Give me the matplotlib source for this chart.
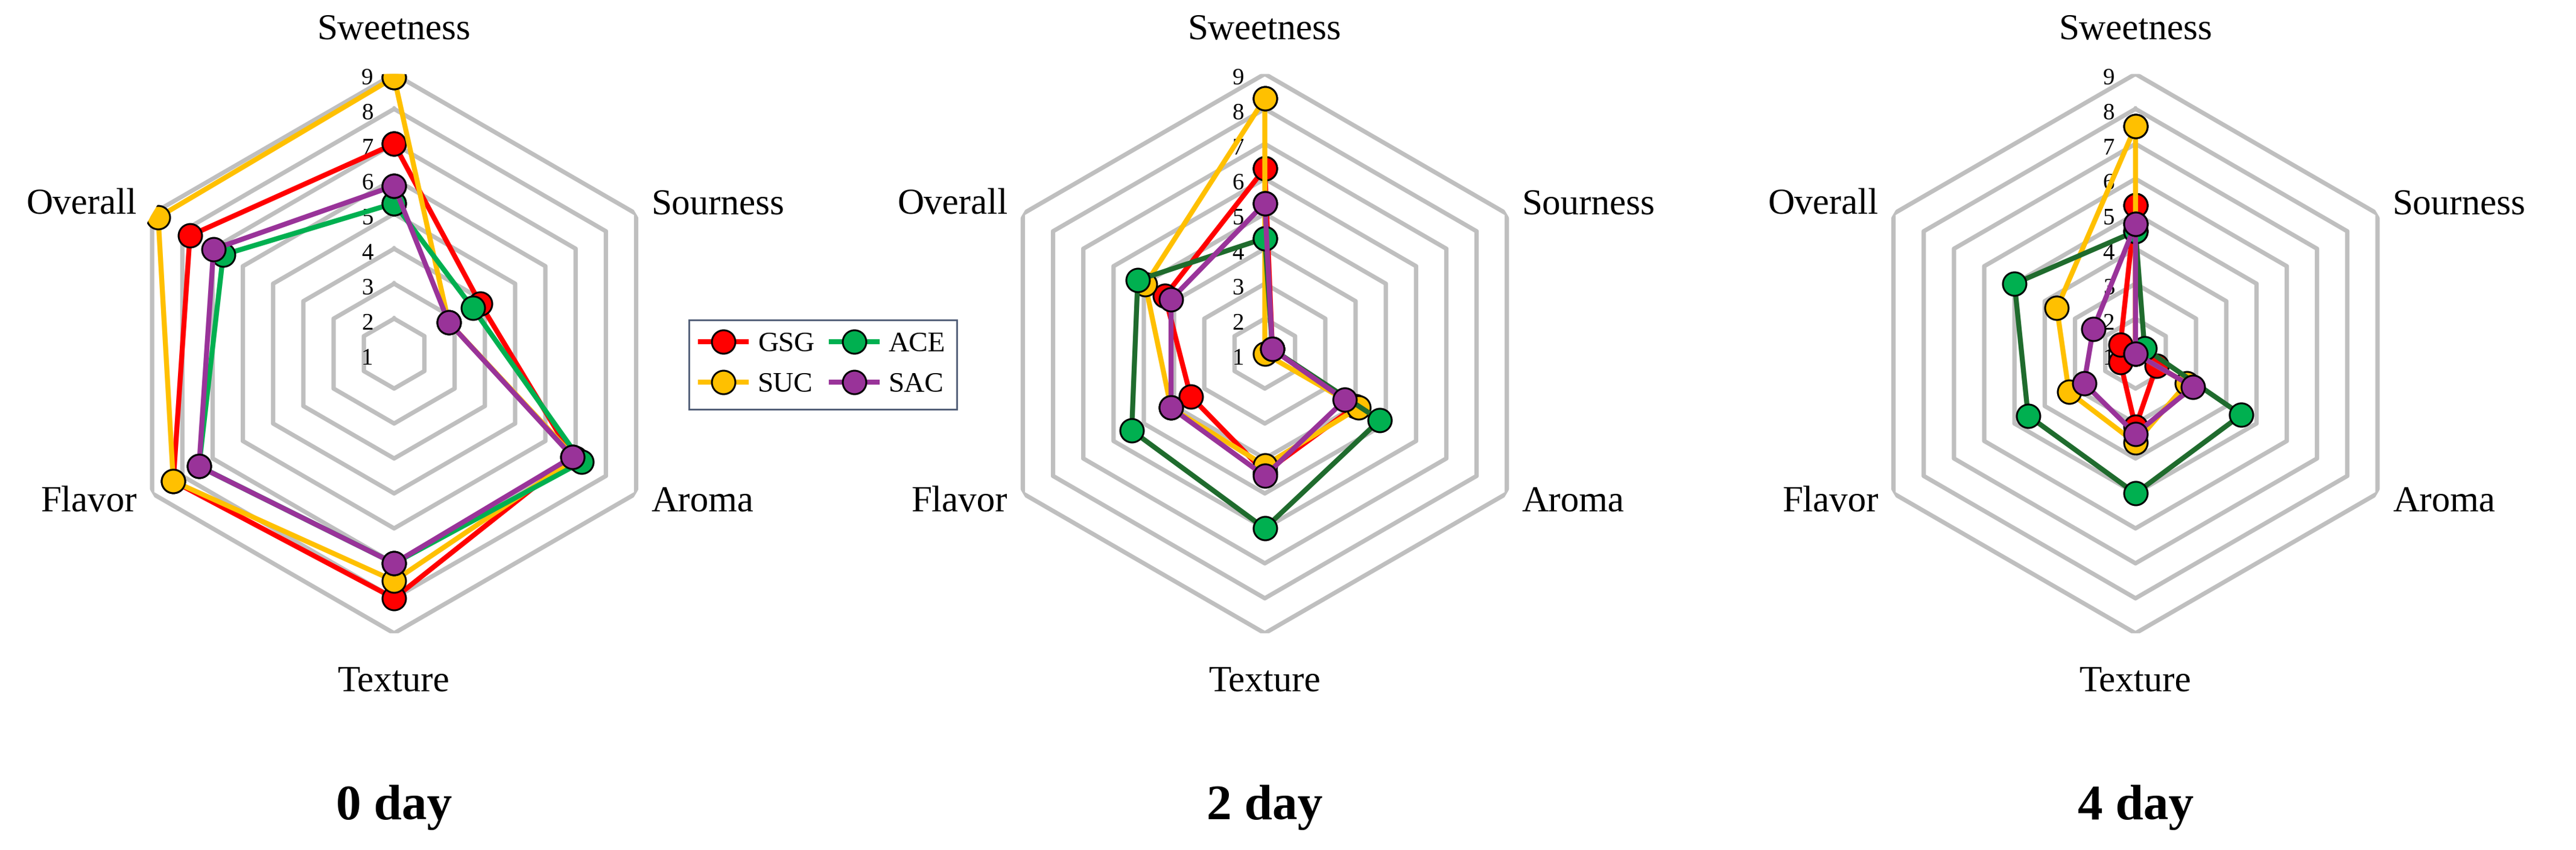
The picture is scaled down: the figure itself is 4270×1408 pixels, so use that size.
import numpy as np
import matplotlib.pyplot as plt
from matplotlib.lines import Line2D

plt.rcParams["font.family"] = ["Liberation Serif", "DejaVu Serif"]

# ---- data -------------------------------------------------------------
attributes = ["Sweetness", "Sourness", "Aroma", "Texture", "Flavor", "Overall"]
days = ["0 day", "2 day", "4 day"]
groups = ["GSG", "SUC", "ACE", "SAC"]

gsg = [[7.0, 3.85, 6.9, 8.0, 8.3, 7.75],
       [6.3, 1.25, 4.0, 4.4, 3.45, 4.3],
       [5.25, 1.0, 1.7, 3.1, 1.5, 1.5]]
suc = [[8.9, 2.8, 7.0, 7.5, 8.3, 8.8],
       [8.3, 1.0, 4.1, 4.2, 4.1, 4.95],
       [7.5, 1.0, 2.7, 3.55, 3.2, 3.6]]
ace = [[5.3, 3.6, 7.2, 7.0, 7.45, 6.65],
       [4.3, 1.25, 4.8, 6.0, 5.4, 5.2],
       [4.5, 1.3, 4.5, 5.0, 4.55, 5.0]]
sac = [[5.8, 2.8, 6.9, 7.0, 7.45, 6.97],
       [5.3, 1.25, 3.65, 4.5, 4.1, 4.1],
       [4.7, 1.0, 2.9, 3.3, 2.7, 2.4]]
ring_values = [1, 2, 3, 4, 5, 6, 7, 8, 9]

# ---- styling ----------------------------------------------------------
marker_col = {"GSG": "#ff0000", "SUC": "#ffc000", "ACE": "#00b050", "SAC": "#993399"}
line_col = [{"GSG": "#ff0000", "SUC": "#ffc000", "ACE": "#00b050", "SAC": "#993399"},
            {"GSG": "#ff0000", "SUC": "#ffc000", "ACE": "#1f6b2d", "SAC": "#993399"},
            {"GSG": "#ff0000", "SUC": "#ffc000", "ACE": "#1f6b2d", "SAC": "#993399"}]
series = {"GSG": gsg, "SUC": suc, "ACE": ace, "SAC": sac}
draw_order = ["GSG", "SUC", "ACE", "SAC"]

fig = plt.figure(figsize=(21.35, 7.04), dpi=200)
angles = np.arange(len(attributes)) * 2 * np.pi / len(attributes)
closed = np.append(angles, angles[0])
centers = [0.153, 0.491, 0.829]
w, h = 0.217, 0.658

for d, day in enumerate(days):
    ax = fig.add_axes([centers[d] - w / 2, 0.584 - h / 2, w, h], projection="polar")
    ax.set_theta_zero_location("N")
    ax.set_theta_direction(-1)
    ax.set_ylim(1, 9)
    ax.grid(False)
    ax.spines["polar"].set_visible(False)
    ax.set_xticks([]); ax.set_yticks([])
    ax.patch.set_alpha(0)

    # hexagonal rings
    for r in ring_values[1:]:
        ax.plot(closed, [r] * len(closed), color="#bfbfbf", lw=2.6, zorder=1)

    # ring numbers
    for r in ring_values:
        ax.annotate(str(r), (0, r), xytext=(-16, -3), textcoords="offset points",
                    ha="center", va="center", fontsize=14)

    # category labels
    for a, name in zip(angles, attributes):
        deg = np.degrees(a)
        if deg == 0.0:
            ax.text(a, 10.25, name, ha="center", va="center", fontsize=22)
        elif abs(deg - 180) < 1:
            ax.text(a, 10.4, name, ha="center", va="center", fontsize=22)
        elif deg < 180:
            ax.text(a, 9.5, name, ha="left", va="center", fontsize=22)
        else:
            ax.text(a, 9.5, name, ha="right", va="center", fontsize=22)

    for z, g in enumerate(draw_order):
        vals = series[g][d]
        ax.plot(closed, vals + vals[:1], color=line_col[d][g], lw=3, zorder=3 + z,
                marker="o", ms=14, mfc=marker_col[g], mec="black", mew=1.1)

    fig.text(centers[d], 0.05, day, ha="center", va="center",
             fontsize=30, fontweight="bold")

handles = [Line2D([], [], color=marker_col[g], lw=3, marker="o", ms=14,
                  mfc=marker_col[g], mec="black", mew=1.1) for g in groups]
fig.legend(handles, groups, ncol=2, loc="upper left", bbox_to_anchor=(0.262, 0.64),
           fontsize=17, frameon=True, fancybox=False, edgecolor="#1f3050",
           handlelength=1.6, columnspacing=0.6, handletextpad=0.4, borderpad=0.4,
           labelspacing=0.5)

fig.savefig("out.png", dpi=200, facecolor="white")
